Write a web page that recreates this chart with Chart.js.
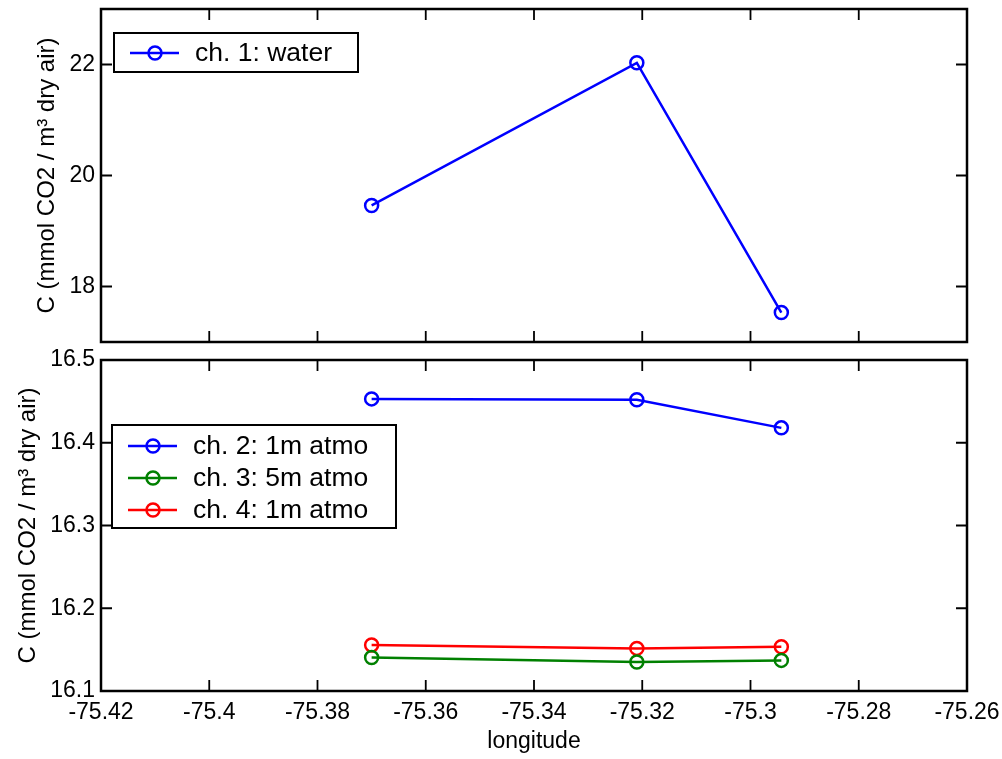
<!DOCTYPE html>
<html>
<head>
<meta charset="utf-8">
<script src="https://cdn.jsdelivr.net/npm/chart.js@4"></script>
<style>
  body { margin: 0; background: #fff; }
  #wrap { position: relative; width: 1002px; height: 759px; overflow: hidden; }
  canvas { position: absolute; left: 0; }
  #topChart { top: 0; }
  #bottomChart { top: 331px; }
</style>
</head>
<body>
<div id="wrap">
  <canvas id="topChart" width="1002" height="351"></canvas>
  <canvas id="bottomChart" width="1002" height="428"></canvas>
</div>
<script>
// data
const longitude = [-75.370, -75.321, -75.2943];
const ch1Water = [19.46, 22.03, 17.53];
const ch2Atmo1m = [16.453, 16.452, 16.418];
const ch3Atmo5m = [16.1405, 16.135, 16.137];
const ch4Atmo1m = [16.1555, 16.1515, 16.1535];

const xTicks = [-75.42, -75.4, -75.38, -75.36, -75.34, -75.32, -75.3, -75.28, -75.26];
const topYTicks = [18, 20, 22];
const bottomYTicks = [16.1, 16.2, 16.3, 16.4, 16.5];

const FONT = "'Liberation Sans', Arial, Helvetica, sans-serif";
const yTitle = 'C (mmol CO2 / m\u00B3 dry air)';

function fmt(v) {
    return String(Number(v.toFixed(2)));
}

function points(xs, ys) {
    return xs.map((x, i) => ({ x: x, y: ys[i] }));
}

function series(label, ys, color) {
    return {
        label: label,
        data: points(longitude, ys),
        showLine: true,
        borderColor: color,
        borderWidth: 2.5,
        pointStyle: 'circle',
        pointRadius: 6.5,
        pointHoverRadius: 6.5,
        pointBorderWidth: 2.5,
        pointBorderColor: color,
        pointBackgroundColor: 'rgba(0,0,0,0)',
        tension: 0
    };
}

// box round the axes, inward tick marks and the legend box
const frame = {
    id: 'frame',
    afterDatasetsDraw(chart, args, opts) {
        const { ctx, chartArea: a, scales: { x, y } } = chart;
        ctx.save();
        ctx.strokeStyle = '#000';
        ctx.lineWidth = 1.8;
        ctx.beginPath();
        x.ticks.forEach(t => {
            const px = x.getPixelForValue(t.value);
            ctx.moveTo(px, a.bottom);
            ctx.lineTo(px, a.bottom - 11);
            ctx.moveTo(px, a.top);
            ctx.lineTo(px, a.top + 11);
        });
        y.ticks.forEach(t => {
            const py = y.getPixelForValue(t.value);
            ctx.moveTo(a.left, py);
            ctx.lineTo(a.left + 11, py);
            ctx.moveTo(a.right, py);
            ctx.lineTo(a.right - 11, py);
        });
        ctx.stroke();
        ctx.lineWidth = 2.5;
        ctx.strokeRect(a.left, a.top, a.right - a.left, a.bottom - a.top);

        const lg = opts.legend;
        if (lg) {
            ctx.fillStyle = '#fff';
            ctx.fillRect(lg.left, lg.top, lg.width, lg.height);
            ctx.lineWidth = 2;
            ctx.strokeRect(lg.left, lg.top, lg.width, lg.height);
            ctx.font = '26.5px ' + FONT;
            ctx.textBaseline = 'middle';
            ctx.textAlign = 'left';
            chart.data.datasets.forEach((ds, i) => {
                const cy = lg.top + lg.firstRow + i * lg.rowGap;
                ctx.strokeStyle = ds.borderColor;
                ctx.lineWidth = 2.5;
                ctx.beginPath();
                ctx.moveTo(lg.left + 16, cy);
                ctx.lineTo(lg.left + 65, cy);
                ctx.stroke();
                ctx.beginPath();
                ctx.arc(lg.left + 41, cy, 6.5, 0, Math.PI * 2);
                ctx.stroke();
                ctx.fillStyle = '#000';
                ctx.fillText(ds.label, lg.left + 81, cy + 1);
            });
        }
        ctx.restore();
    }
};

function makeChart(canvasId, datasets, yMin, yMax, yTicks, showX, titlePad, legend, padTop, xHeight) {
    return new Chart(document.getElementById(canvasId), {
        type: 'scatter',
        data: { datasets: datasets },
        options: {
            responsive: false,
            animation: false,
            devicePixelRatio: 1,
            layout: { padding: { left: 0, right: 35, top: padTop, bottom: showX ? 0 : 9 } },
            plugins: {
                legend: { display: false },
                tooltip: { enabled: false },
                frame: { legend: legend }
            },
            scales: {
                x: {
                    type: 'linear',
                    min: xTicks[0],
                    max: xTicks[xTicks.length - 1],
                    afterBuildTicks: s => { s.ticks = xTicks.map(v => ({ value: v })); },
                    afterFit: s => {
                        s.height = xHeight;
                        s.paddingLeft = 0;
                        s.paddingRight = 0;
                    },
                    grid: { display: false, drawTicks: false },
                    border: { display: false },
                    ticks: {
                        display: showX,
                        padding: 8,
                        color: '#000',
                        maxRotation: 0,
                        autoSkip: false,
                        font: { family: FONT, size: 23 },
                        callback: v => fmt(v)
                    },
                    title: {
                        display: showX,
                        text: 'longitude',
                        color: '#000',
                        font: { family: FONT, size: 23 },
                        padding: { top: 0, bottom: 4 }
                    }
                },
                y: {
                    type: 'linear',
                    min: yMin,
                    max: yMax,
                    afterBuildTicks: s => { s.ticks = yTicks.map(v => ({ value: v })); },
                    afterFit: s => {
                        s.width = 101;
                        s.paddingTop = 0;
                        s.paddingBottom = 0;
                    },
                    grid: { display: false, drawTicks: false },
                    border: { display: false },
                    ticks: {
                        padding: 6,
                        color: '#000',
                        autoSkip: false,
                        font: { family: FONT, size: 23 },
                        callback: v => fmt(v)
                    },
                    title: {
                        display: true,
                        text: yTitle,
                        color: '#000',
                        font: { family: FONT, size: 24 },
                        padding: { top: titlePad, bottom: 0 }
                    }
                }
            }
        },
        plugins: [frame]
    });
}

makeChart('topChart',
    [series('ch. 1: water', ch1Water, '#0000ff')],
    17, 23, topYTicks, false, 33,
    { left: 114, top: 33, width: 244, height: 39, firstRow: 20, rowGap: 32 },
    9, 0);

makeChart('bottomChart',
    [
        series('ch. 2: 1m atmo', ch2Atmo1m, '#0000ff'),
        series('ch. 3: 5m atmo', ch3Atmo5m, '#008000'),
        series('ch. 4: 1m atmo', ch4Atmo1m, '#ff0000')
    ],
    16.1, 16.5, bottomYTicks, true, 14,
    { left: 112, top: 94, width: 284, height: 103, firstRow: 21, rowGap: 32 },
    29, 68);
</script>
</body>
</html>
